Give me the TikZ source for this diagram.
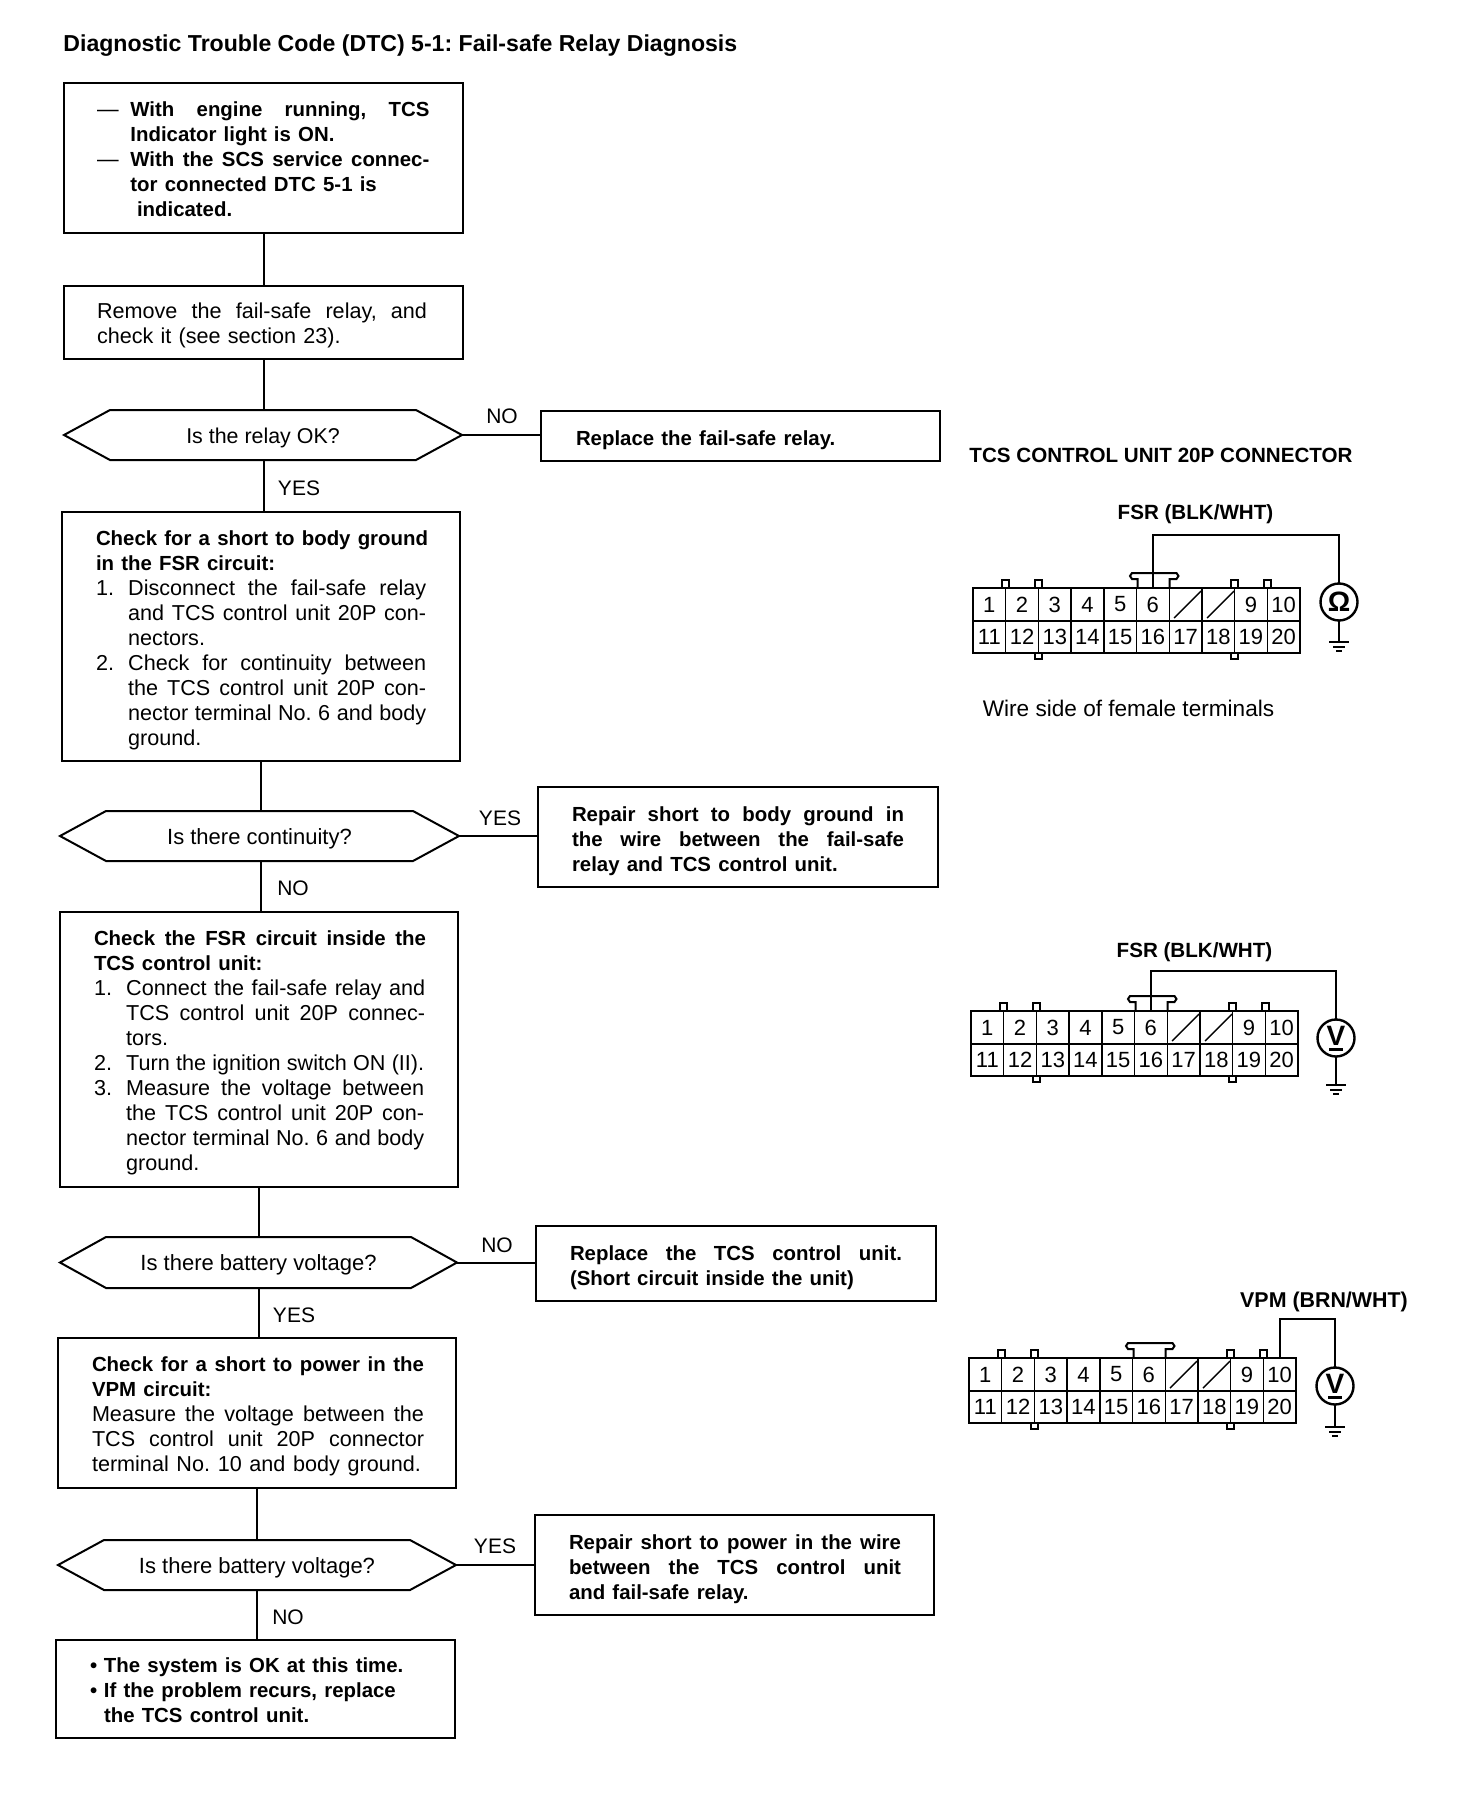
\documentclass[tikz,border=0pt]{standalone}
\usepackage{fontspec}
\setmainfont{Liberation Sans}
\frenchspacing
\newcommand{\J}[2]{\makebox[#1pt][s]{\spaceskip=.278em plus 1fil minus .2em\relax #2}}
\newcommand{\Ind}[1]{\hspace*{#1pt}}
\newcommand{\Tag}[2]{\makebox[#1pt][l]{#2}}
\newcommand{\Bd}{\fontsize{10.2}{12.5}\selectfont\bfseries}
\newcommand{\Rg}{\fontsize{10.8}{12.5}\selectfont\mdseries}
\newcommand{\dropv}{11.2pt}
\newcommand{\fcbox}[7]{% name x1 y1 x2 y2 inset text
  \pgfmathsetlengthmacro{\bw}{(#4-#2)*0.5pt}%
  \pgfmathsetlengthmacro{\bh}{(#5-#3)*0.5pt}%
  \pgfmathsetlengthmacro{\bi}{#6*0.5pt}%
  \pgfmathsetlengthmacro{\bt}{(#4-#2-2*#6)*0.5pt}%
  \node[flowbox,minimum width=\bw,minimum height=\bh,inner xsep=\bi,text width=\bt] (#1) at ({(#2+#4)/2},{(#3+#5)/2}) {\rule{0pt}{\dropv}#7};}
\newcommand{\fchex}[6]{% name x1 y1 x2 y2 text
  \pgfmathsetlengthmacro{\bw}{(#4-#2)*0.5pt}%
  \pgfmathsetlengthmacro{\bh}{(#5-#3)*0.5pt}%
  \node[hexlabel,minimum width=\bw,minimum height=\bh] (#1) at ({(#2+#4)/2},{(#3+#5)/2}) {\raisebox{-4pt}[0pt][0pt]{#6}};
  \draw[flowline] (#1.west) -- ({#2+46},#3) -- ({#4-46},#3) -- (#1.east) -- ({#4-46},#5) -- ({#2+46},#5) -- cycle;}
\newcommand{\conn}[3]{% prefix x y
  \begin{scope}[shift={(#2,#3)}]
    \node[cellbody] (#1) at (163.5,32.5) {};
    \draw[flowline] (0,32.5) -- (327,32.5);
    \foreach \i in {1,...,9}{\draw[thinline] ({\i*32.7},0) -- ({\i*32.7},65);}
    \foreach \n/\t in {0/1,1/2,2/3,3/4,4/5,5/6,8/9,9/10}{
      \node[celllabel] (#1t\t) at ({(\n+0.5)*32.7},16.5) {\t};}
    \foreach \n in {0,...,9}{
      \pgfmathtruncatemacro{\t}{\n+11}
      \node[celllabel] (#1t\t) at ({(\n+0.5)*32.7},49) {\t};}
    \draw[thinline] (201,30) -- (228,3);
    \draw[thinline] (234,30) -- (261,3);
    % tabs on the top edge
    \foreach \x in {32.7,65.4,261.6,294.3}{
      \draw[flowline] ({\x-3.5},0) -- ({\x-3.5},-8) -- ({\x+3.5},-8) -- ({\x+3.5},0);}
    % tabs on the bottom edge
    \foreach \x in {65.4,261.6}{
      \draw[flowline] ({\x-3.5},65) -- ({\x-3.5},71) -- ({\x+3.5},71) -- ({\x+3.5},65);}
    % centre latch
    \draw[flowline] (164.5,0) -- (164.5,-9) -- (159,-9) -- (157,-12) -- (159,-15) -- (203.5,-15) -- (205.5,-12) -- (203.5,-9) -- (196.5,-9) -- (196.5,0);
  \end{scope}}
\newcommand{\earth}[3]{% x y name
  \coordinate (#3) at (#1,#2);
  \draw[flowline] (#1-10,#2) -- (#1+10,#2);
  \draw[flowline] (#1-6,#2+5) -- (#1+6,#2+5);
  \draw[flowline] (#1-3,#2+9) -- (#1+3,#2+9);}
\tikzset{
  flowline/.style={line width=1pt,black},
  thinline/.style={line width=0.7pt,black},
  flowbox/.style={draw,line width=1pt,rectangle,inner ysep=0pt,outer sep=0pt,align=left,font=\Rg},
  hexlabel/.style={rectangle,inner sep=0pt,outer sep=0pt,font=\fontsize{11}{12.5}\selectfont},
  lab/.style={inner sep=0pt,font=\fontsize{10.5}{12.5}\selectfont},
  blab/.style={inner sep=0pt,font=\fontsize{10.3}{12.5}\selectfont\bfseries},
  cellbody/.style={draw,line width=1.2pt,rectangle,minimum width=163.5pt,minimum height=32.5pt,inner sep=0pt,outer sep=0pt},
  celllabel/.style={inner sep=0pt,font=\fontsize{11}{12}\selectfont},
  meter/.style={draw,circle,line width=1.2pt,minimum size=18.5pt,inner sep=0pt,outer sep=0pt,font=\fontsize{14}{14}\selectfont\bfseries},
}
\begin{document}
\begin{tikzpicture}[x=0.5pt,y=-0.5pt]
\useasboundingbox (0,0) rectangle (1472,1798);
\node[blab,anchor=west,font=\fontsize{11.55}{12.5}\selectfont\bfseries] (title) at (63,46) {Diagnostic Trouble Code (DTC) 5-1: Fail-safe Relay Diagnosis};

\renewcommand{\dropv}{9pt}
\fcbox{b1}{64}{83}{463}{233}{33}{%
\Tag{16.7}{---}\Bd\J{149.5}{With engine running, TCS}\\
\Ind{16.7}Indicator light is ON.\\
\Rg\Tag{16.7}{---}\Bd\J{149.5}{With the SCS service connec-}\\
\Ind{16.7}tor connected DTC 5-1 is\\
\Ind{20}indicated.}
\renewcommand{\dropv}{11.2pt}
\fcbox{b2}{64}{286}{463}{359}{33}{\J{165}{Remove the fail-safe relay, and}\\check it (see section 23).}
\fchex{d1}{64}{410}{462}{460}{\fontsize{10.7}{12.5}\selectfont Is the relay OK?}
\fcbox{r1}{541}{411}{940}{461}{34}{\Bd\Ind{0.5}Replace the fail-safe relay.}
\fcbox{b3}{62}{512}{460}{761}{34}{%
\Bd\J{166}{Check for a short to body ground}\\
in the FSR circuit:\\\Rg
\Tag{16.1}{1.}\J{149}{Disconnect the fail-safe relay}\\
\Ind{16.1}\J{149}{and TCS control unit 20P con-}\\
\Ind{16.1}nectors.\\
\Tag{16.1}{2.}\J{149}{Check for continuity between}\\
\Ind{16.1}\J{149}{the TCS control unit 20P con-}\\
\Ind{16.1}\J{149}{nector terminal No. 6 and body}\\
\Ind{16.1}ground.}
\fchex{d2}{60}{811}{459}{861}{Is there continuity?}
\fcbox{r2}{538}{787}{938}{887}{34}{\Bd
\J{166}{Repair short to body ground in}\\
\J{166}{the wire between the fail-safe}\\
relay and TCS control unit.}
\fcbox{b4}{60}{912}{458}{1187}{34}{%
\Bd\J{166}{Check the FSR circuit inside the}\\
TCS control unit:\\\Rg
\Tag{16.1}{1.}\J{149.5}{Connect the fail-safe relay and}\\
\Ind{16.1}\J{149.5}{TCS control unit 20P connec-}\\
\Ind{16.1}tors.\\
\Tag{16.1}{2.}\J{149}{Turn the ignition switch ON (II).}\\
\Tag{16.1}{3.}\J{149}{Measure the voltage between}\\
\Ind{16.1}\J{149}{the TCS control unit 20P con-}\\
\Ind{16.1}\J{149}{nector terminal No. 6 and body}\\
\Ind{16.1}ground.}
\fchex{d3}{60}{1237}{457}{1288}{Is there battery voltage?}
\fcbox{r3}{536}{1226}{936}{1301}{34}{\Bd
\J{166}{Replace the TCS control unit.}\\
(Short circuit inside the unit)}
\fcbox{b5}{58}{1338}{456}{1488}{34}{%
\Bd\J{166}{Check for a short to power in the}\\
VPM circuit:\\\Rg
\J{166}{Measure the voltage between the}\\
\J{166}{TCS control unit 20P connector}\\
\J{164.5}{terminal No. 10 and body ground.}}
\fchex{d4}{58}{1540}{456}{1590}{Is there battery voltage?}
\fcbox{r4}{535}{1515}{934}{1615}{34}{\Bd
\J{166}{Repair short to power in the wire}\\
\J{166}{between the TCS control unit}\\
and fail-safe relay.}
\renewcommand{\dropv}{9pt}
\fcbox{b6}{56}{1640}{455}{1738}{34}{\Bd
\Tag{7}{•}The system is OK at this time.\\
\Tag{7}{•}If the problem recurs, replace\\
\Ind{7}the TCS control unit.}

\draw[flowline] (b1.south) -- (b2.north);
\draw[flowline] (b2.south) -- (b2.south |- d1.north);
\draw[flowline] (b2.south |- d1.south) -- (b2.south |- b3.north);
\draw[flowline] (d1.east) -- (d1.east -| r1.west);
\draw[flowline] (b3.south) -- (b3.south |- d2.north);
\draw[flowline] (b3.south |- d2.south) -- (b3.south |- b4.north);
\draw[flowline] (d2.east) -- (d2.east -| r2.west);
\draw[flowline] (b4.south) -- (b4.south |- d3.north);
\draw[flowline] (b4.south |- d3.south) -- (b4.south |- b5.north);
\draw[flowline] (d3.east) -- (d3.east -| r3.west);
\draw[flowline] (b5.south) -- (b5.south |- d4.north);
\draw[flowline] (b5.south |- d4.south) -- (b5.south |- b6.north);
\draw[flowline] (d4.east) -- (d4.east -| r4.west);

\node[lab] (l1) at (502,416) {NO};
\node[lab] (l2) at (299,488) {YES};
\node[lab] (l3) at (500,818) {YES};
\node[lab] (l4) at (293,888) {NO};
\node[lab] (l5) at (497,1245) {NO};
\node[lab] (l6) at (294,1315) {YES};
\node[lab] (l7) at (495,1546) {YES};
\node[lab] (l8) at (288,1617) {NO};

\node[blab] (h1) at (1161,455) {TCS CONTROL UNIT 20P CONNECTOR};
\node[blab] (f1) at (1195.5,514) {FSR (BLK/WHT)};
\node[lab,font=\fontsize{11.3}{12.5}\selectfont] (w1) at (1128.5,708) {Wire side of female terminals};
\node[blab] (f2) at (1194.5,952) {FSR (BLK/WHT)};
\node[blab,font=\fontsize{10.7}{12.5}\selectfont\bfseries] (v3) at (1324,1302) {VPM (BRN/WHT)};

% connector 1
\conn{ca}{973}{588}
\node[meter] (ma) at (1339,602) {Ω};
\coordinate (wa) at (1153,535);
\draw[flowline] (cat6.north |- ca.north) -- (cat6.north |- wa) -- (wa -| ma.north) -- (ma.north);
\earth{1339}{642}{ga}
\draw[flowline] (ma.south) -- (ga);

% connector 2
\conn{cb}{971}{1011}
\node[meter] (mb) at (1336,1038) {\raisebox{2pt}{V}};
\coordinate (wb) at (1151,971);
\draw[flowline] (cbt6.north |- cb.north) -- (cbt6.north |- wb) -- (wb -| mb.north) -- (mb.north);
\draw[line width=1.5pt] (1329,1049) -- (1343,1049);
\earth{1336}{1085}{gb}
\draw[flowline] (mb.south) -- (gb);

% connector 3
\conn{cc}{969}{1358}
\node[meter] (mc) at (1335,1386) {\raisebox{2pt}{V}};
\coordinate (wc) at (1281,1319);
\draw[flowline] (cct10.north |- cc.north) -- (cct10.north |- wc) -- (wc -| mc.north) -- (mc.north);
\draw[line width=1.5pt] (1328,1397) -- (1342,1397);
\earth{1335}{1427}{gc}
\draw[flowline] (mc.south) -- (gc);
\end{tikzpicture}
\end{document}
